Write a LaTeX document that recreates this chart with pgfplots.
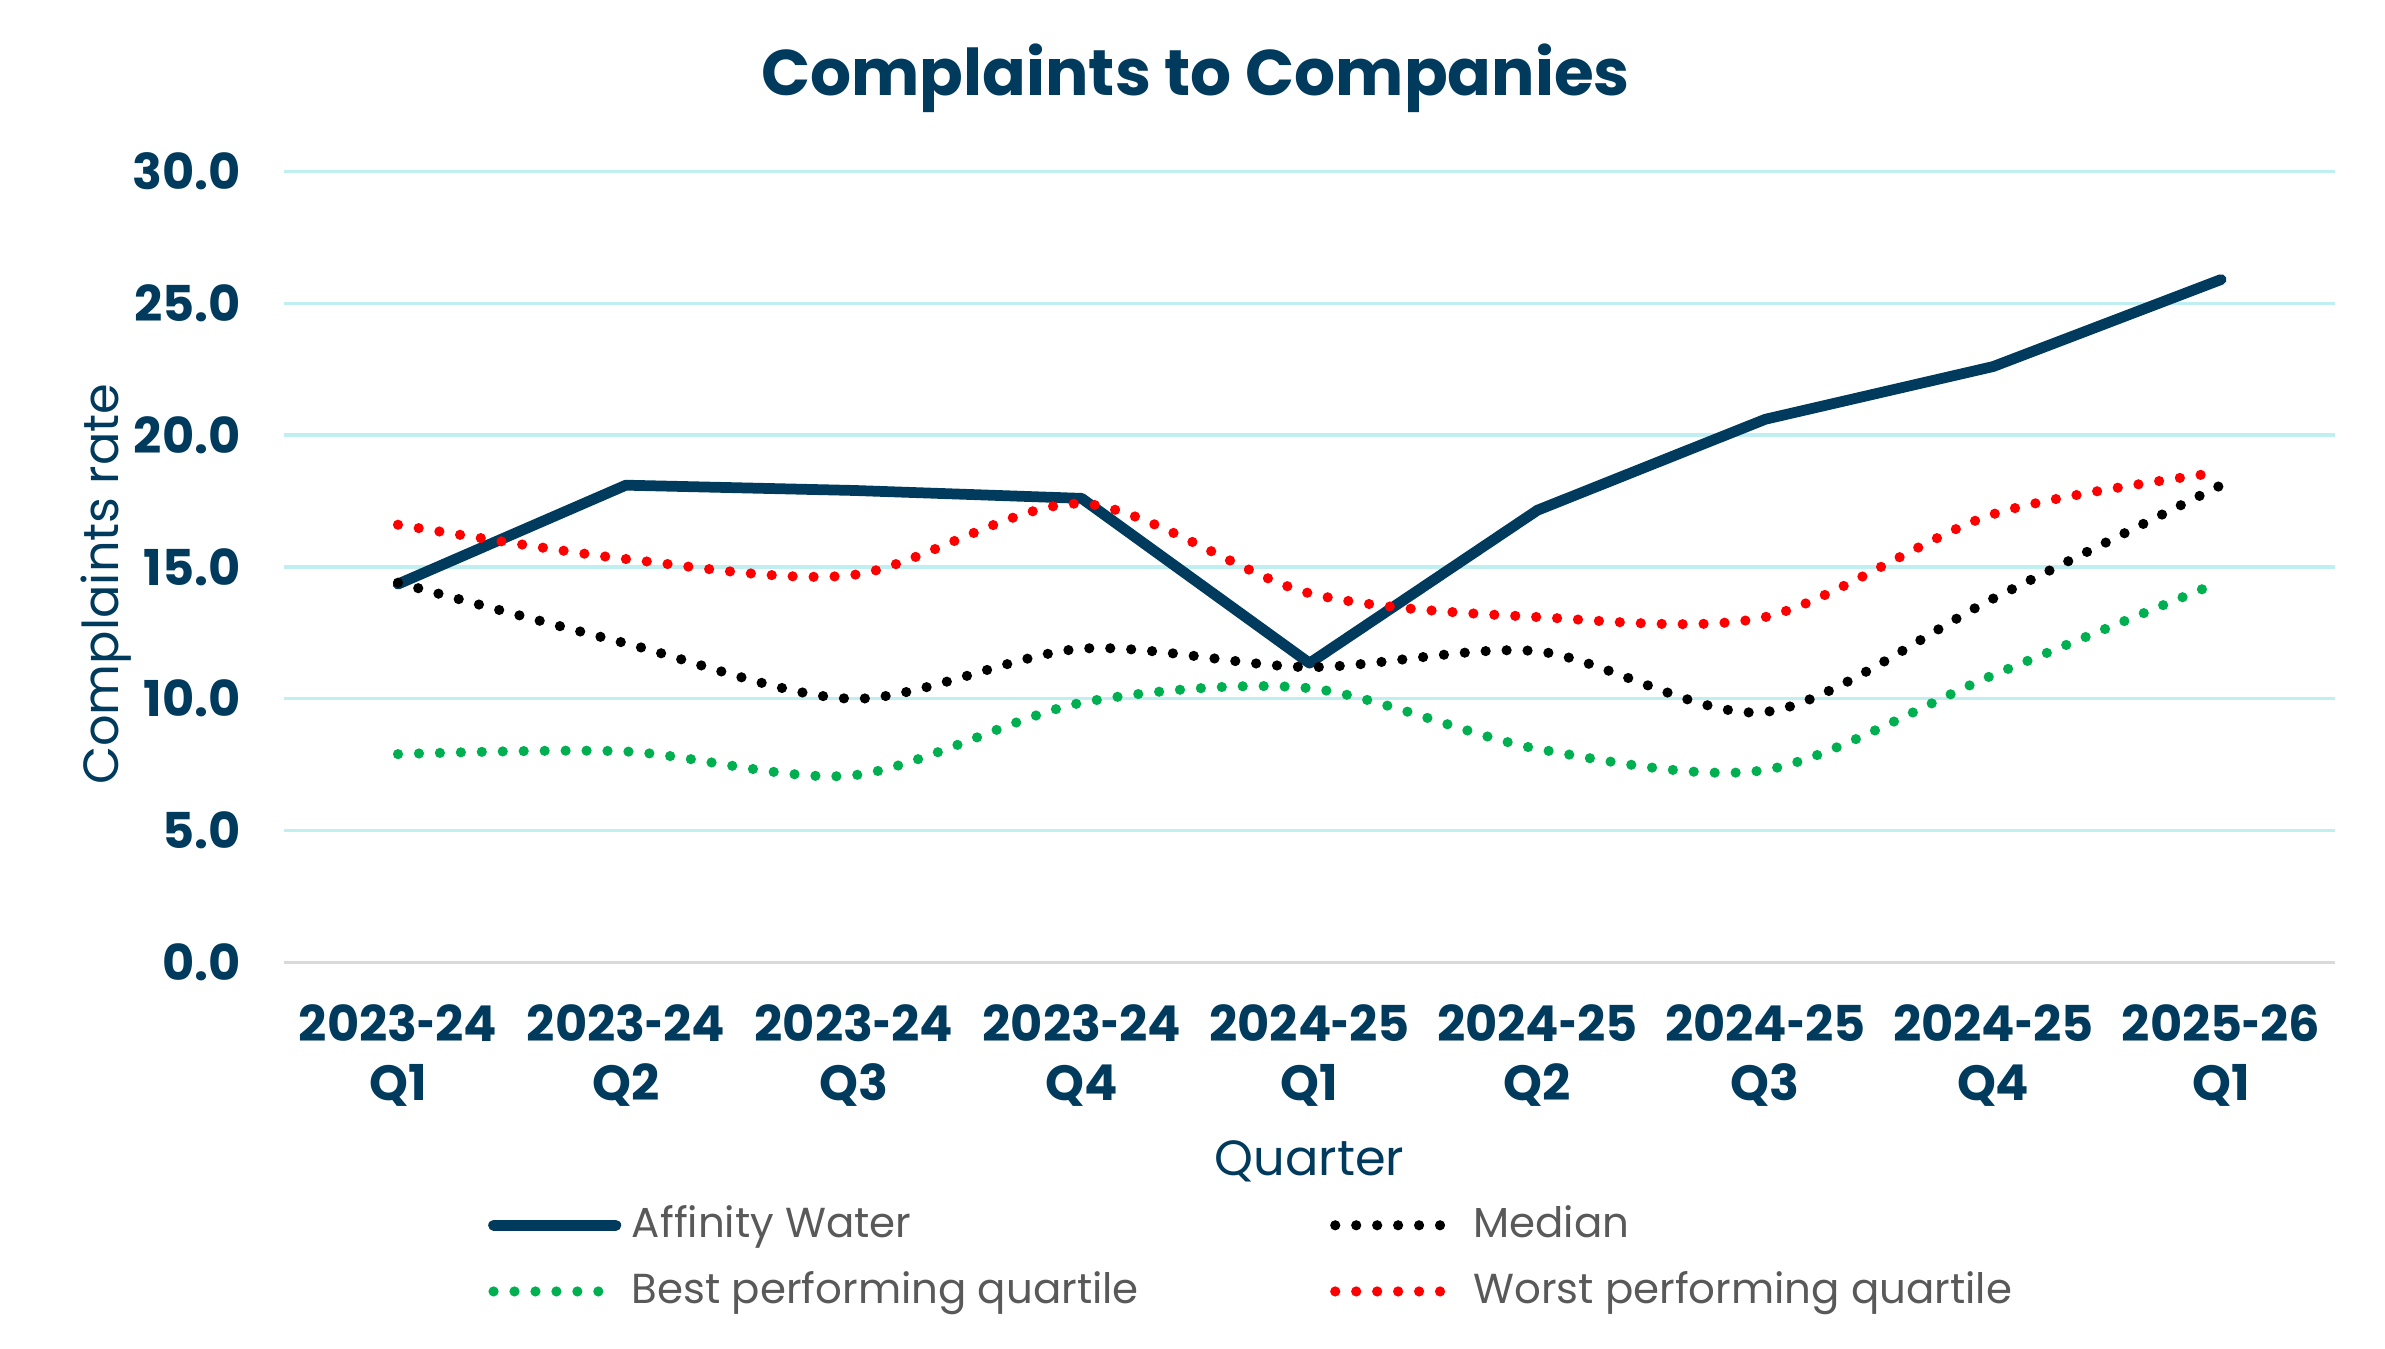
\documentclass[border=0pt]{standalone}
\usepackage{fontspec}
\setmainfont{Poppins}
\usepackage{graphicx}
\usepackage{pgfplots}
\pgfplotsset{compat=1.18}
\definecolor{navy}{HTML}{003A5C}
\definecolor{gridc}{HTML}{C0EFF2}
\definecolor{axisgray}{HTML}{D9D9D9}
\definecolor{legendgray}{HTML}{595959}
\definecolor{bestgreen}{HTML}{00B050}
\definecolor{worstred}{HTML}{FF0000}
\newcommand{\hy}{\scalebox{0.62}[1]{-}}

\begin{document}
\begin{tikzpicture}
\path[use as bounding box] (0,0) rectangle (15.6cm,8.82cm);
\node[font=\bfseries\fontsize{12}{14}\selectfont, text=navy] at (7.82cm,8.31cm) {Complaints to Companies};
\begin{axis}[
  at={(1.858cm,2.525cm)}, anchor=south west,
  scale only axis, width=13.415cm, height=5.174cm,
  xmin=-0.5, xmax=8.5, ymin=0, ymax=30,
  xtick={0,...,8},
  xticklabels={{2023\hy24\\Q1},{2023\hy24\\Q2},{2023\hy24\\Q3},{2023\hy24\\Q4},{2024\hy25\\Q1},{2024\hy25\\Q2},{2024\hy25\\Q3},{2024\hy25\\Q4},{2025\hy26\\Q1}},
  ytick={0,5,...,30},
  axis x line=bottom, axis y line=left,
  x axis line style={-, draw=axisgray, line width=0.6pt},
  y axis line style={draw=none},
  major tick length=0pt,
  ymajorgrids, grid style={draw=gridc, line width=0.6pt},
  /pgf/number format/assume math mode=true,
  yticklabel style={/pgf/number format/fixed, /pgf/number format/fixed zerofill, /pgf/number format/precision=1, xshift=-1.6mm},
  ticklabel style={font=\bfseries\fontsize{9.2}{11.1}\selectfont, text=navy},
  xticklabel style={align=center, yshift=-1.5mm},
  xlabel={Quarter}, ylabel={Complaints rate},
  label style={font=\fontsize{9.2}{11}\selectfont, text=navy},
  xlabel style={at={(0.5,-0.2694)}, anchor=base},
  ylabel style={at={(-0.0805,0.478)}, anchor=base},
  legend columns=2,
  legend cell align=left,
  legend style={at={(0.099,-0.292)}, anchor=north west, draw=none, fill=none,
    font=\fontsize{7.8}{9.5}\selectfont, text=legendgray, inner sep=0pt,
    /tikz/every even column/.append style={column sep=11.8mm},
    row sep=0.3mm},
  legend image code/.code={\draw[#1] (0cm,0cm) -- (0.8cm,0cm);},
  dotline/.style={line width=1.9pt, line cap=round, dash pattern=on 0pt off 3.9pt, smooth},
]
\addplot[navy, line width=2pt, line join=round, line cap=round] coordinates {
  (0,14.35) (1,18.1) (2,17.9) (3,17.6) (4,11.35) (5,17.15) (6,20.6) (7,22.6) (8,25.9)
};
\addlegendentry{Affinity Water}
\addplot[black, dotline] coordinates {
  (0,14.4) (1,12.1) (2,10.0) (3,11.9) (4,11.2) (5,11.8) (6,9.5) (7,13.8) (8,18.1)
};
\addlegendentry{Median}
\addplot[bestgreen, dotline] coordinates {
  (0,7.9) (1,8.0) (2,7.1) (3,9.85) (4,10.4) (5,8.1) (6,7.3) (7,10.9) (8,14.45)
};
\addlegendentry{Best performing quartile}
\addplot[worstred, dotline] coordinates {
  (0,16.6) (1,15.3) (2,14.7) (3,17.4) (4,14.0) (5,13.1) (6,13.1) (7,17.0) (8,18.6)
};
\addlegendentry{Worst performing quartile}
\end{axis}
\end{tikzpicture}
\end{document}
